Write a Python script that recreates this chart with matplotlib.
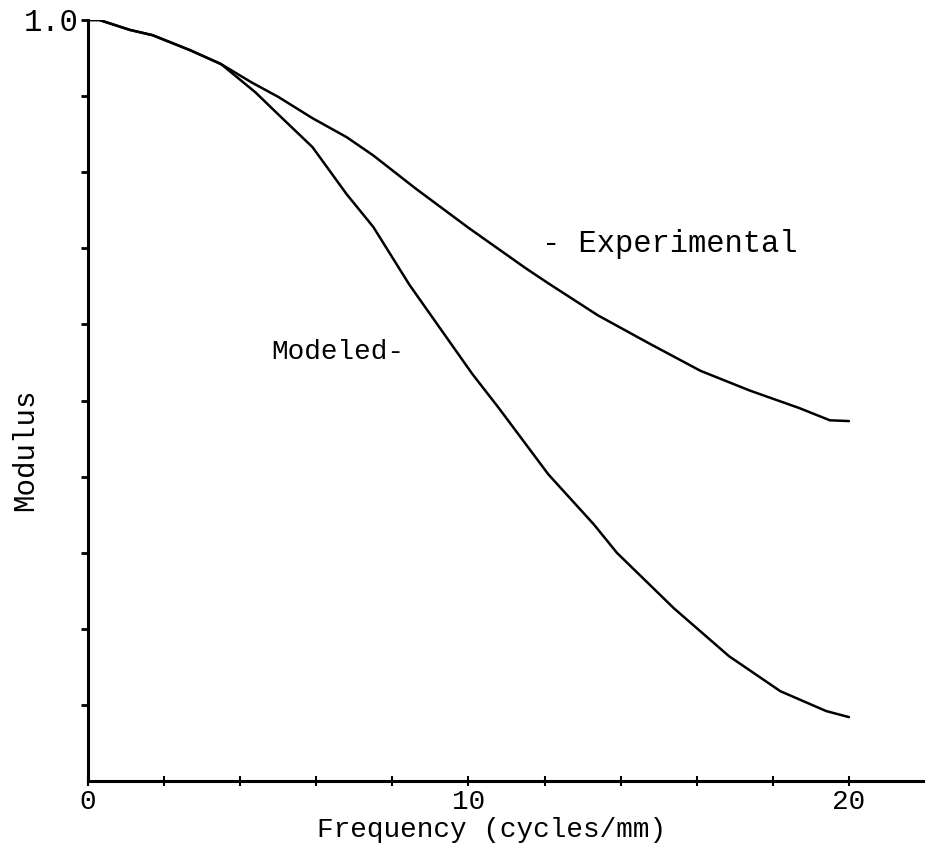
import matplotlib
matplotlib.use("Agg")
import matplotlib.pyplot as plt

# ---- data ----
freq_exp = [0, 0.3, 1.1, 1.7, 2.7, 3.5, 4.3, 5.0, 5.9, 6.8, 7.5, 8.6, 10.0,
            11.5, 12.1, 13.4, 14.75, 16.1, 17.4, 18.7, 19.5, 20.0]
mod_exp = [1.0, 1.0, 0.987, 0.98, 0.96, 0.942, 0.918, 0.899, 0.871, 0.846,
           0.822, 0.779, 0.727, 0.674, 0.654, 0.612, 0.575, 0.539, 0.513,
           0.49, 0.474, 0.473]

freq_mod = [0, 0.3, 1.1, 1.7, 2.7, 3.5, 4.4, 5.0, 5.9, 6.8, 7.5, 8.45, 10.1,
            10.8, 12.1, 13.3, 13.9, 15.4, 16.85, 18.2, 19.4, 20.0]
mod_mod = [1.0, 1.0, 0.987, 0.98, 0.96, 0.942, 0.905, 0.876, 0.833, 0.771,
           0.728, 0.652, 0.535, 0.49, 0.403, 0.337, 0.3, 0.227, 0.164, 0.118,
           0.092, 0.084]

x_ticks = [0, 2, 4, 6, 8, 10, 12, 14, 16, 18, 20]
x_tick_labels = ["0", "", "", "", "", "10", "", "", "", "", "20"]
y_ticks = [0.1, 0.2, 0.3, 0.4, 0.5, 0.6, 0.7, 0.8, 0.9, 1.0]
y_tick_labels = ["", "", "", "", "", "", "", "", "", "1.0"]

label_exp = "- Experimental"
label_mod = "Modeled-"
x_label = "Frequency (cycles/mm)"
y_label = "Modulus"

FONT = ["Liberation Mono", "DejaVu Sans Mono"]

fig = plt.figure(figsize=(9.25, 8.58), dpi=100)
ax = fig.add_axes([0.0951, 0.0897, 0.9049, 0.887])

ax.plot(freq_exp, mod_exp, color="black", lw=1.8, solid_capstyle="round",
        solid_joinstyle="round")
ax.plot(freq_mod, mod_mod, color="black", lw=1.8, solid_capstyle="round",
        solid_joinstyle="round")

ax.set_xlim(0, 22)
ax.set_ylim(0, 1.0)

for s in ("top", "right"):
    ax.spines[s].set_visible(False)
for s in ("left", "bottom"):
    ax.spines[s].set_linewidth(2.2)
ax.spines["left"].set_bounds(0, 1.0)

ax.set_xticks(x_ticks)
ax.set_xticklabels(x_tick_labels, fontfamily=FONT, fontsize=20)
ax.set_yticks(y_ticks)
ax.set_yticklabels(y_tick_labels, fontfamily=FONT, fontsize=22)
ax.tick_params(axis="x", direction="inout", length=7, width=1.5, pad=2)
ax.tick_params(axis="y", direction="out", length=5, width=2, pad=2)

ax.text(11.94, 0.706, label_exp, fontfamily=FONT, fontsize=22,
        ha="left", va="center")
ax.text(4.83, 0.564, label_mod, fontfamily=FONT, fontsize=20,
        ha="left", va="center")

fig.text(0.531, 0.033, x_label, fontfamily=FONT, fontsize=20,
         ha="center", va="center")
fig.text(0.027, 0.4755, y_label, fontfamily=FONT, fontsize=21,
         ha="center", va="center", rotation=90)

fig.savefig("out.png", dpi=100, facecolor="white")
